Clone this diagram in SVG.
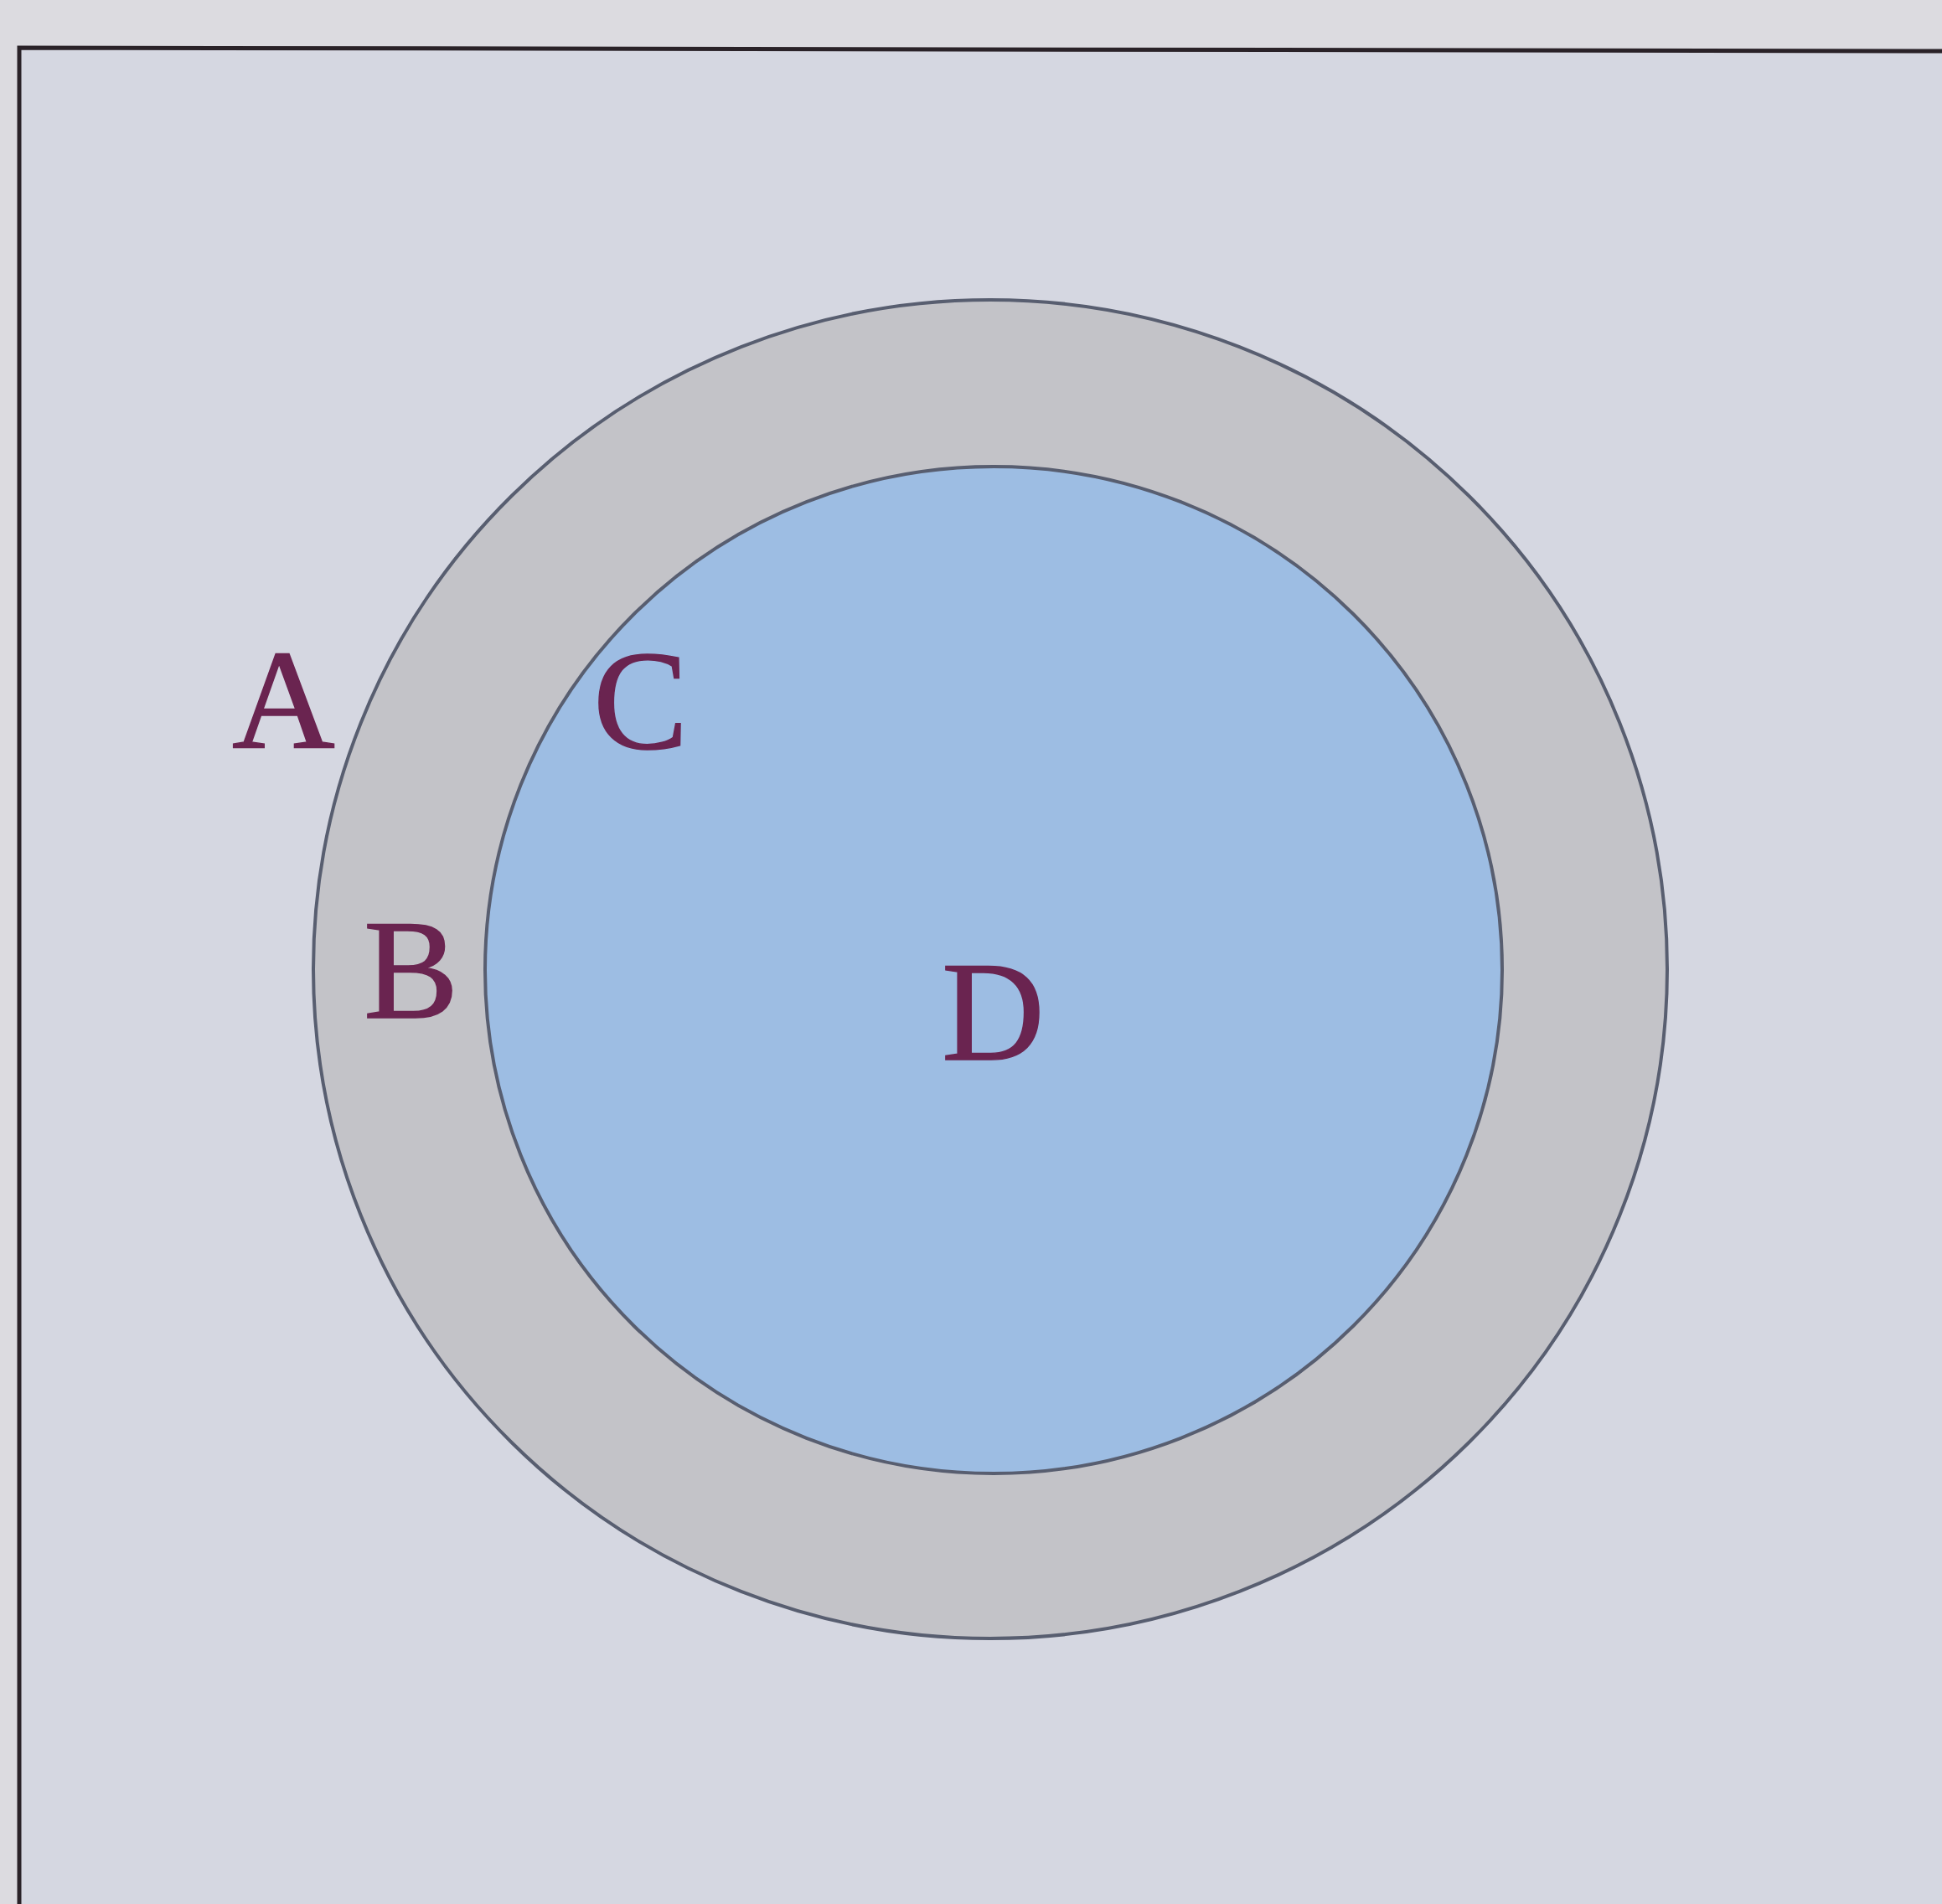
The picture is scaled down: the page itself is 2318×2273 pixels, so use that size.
<svg xmlns="http://www.w3.org/2000/svg" width="2318" height="2273" viewBox="0 0 2318 2273">
<style>
.lbl{font-family:'Liberation Serif',serif;font-size:170px;fill:#6a2450;stroke:#6a2450;stroke-width:1.5;}
.ring{stroke:#585e70;stroke-width:4;}
</style>
<rect x="0" y="0" width="2318" height="2273" fill="#dcdbe0"/>
<rect x="23" y="58" width="2310" height="2230" fill="#d5d7e1"/>
<path d="M23,2273 V57 L2318,61" fill="none" stroke="#2a2228" stroke-width="5"/>
<g id="outer">
<ellipse class="ring" cx="1182" cy="1157" rx="808" ry="799" fill="#c3c3c8"/>
</g>
<g id="inner">
<ellipse class="ring" cx="1186" cy="1158" rx="607" ry="601" fill="#9dbde3"/>
</g>
<g id="label-A"><text class="lbl" font-family="Liberation Serif" x="277" y="893">A</text></g>
<g id="label-B"><text class="lbl" font-family="Liberation Serif" x="434" y="1215">B</text></g>
<g id="label-C"><text class="lbl" font-family="Liberation Serif" x="708" y="893">C</text></g>
<g id="label-D"><text class="lbl" font-family="Liberation Serif" x="1124" y="1265">D</text></g>
</svg>
